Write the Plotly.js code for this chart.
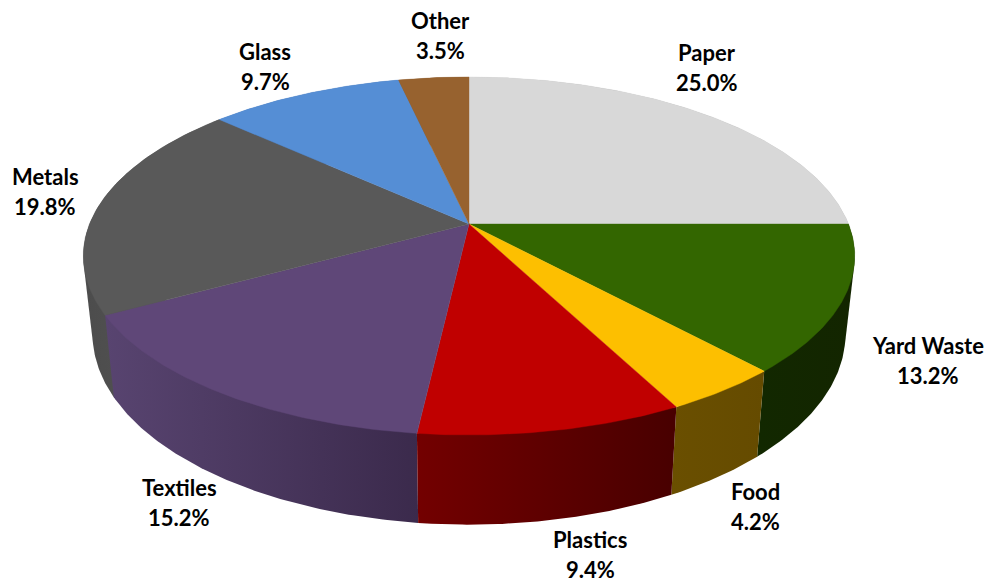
<!DOCTYPE html>
<html>
<head>
<meta charset="utf-8">
<script src="https://cdn.plot.ly/plotly-3.0.1.min.js"></script>
<style>html,body{margin:0;padding:0;background:#fff}#chart{width:992px;height:582px}</style>
</head>
<body>
<div id="chart"></div>
<script>
// Data
const categories = ["Paper", "Yard Waste", "Food", "Plastics", "Textiles", "Metals", "Glass", "Other"];
const shares = [25.0, 13.2, 4.2, 9.4, 15.2, 19.8, 9.7, 3.5];

// Styles
const topColors = ["#d8d8d8", "#336600", "#fdbf00", "#c00000", "#5f4778", "#595959", "#558ed5", "#97622f"];
const wallLeft  = ["#b0b0b0", "#122800", "#6a4f00", "#730000", "#584470", "#4c4c4c", "#456fa6", "#7a4f26"];
const wallRight = ["#b0b0b0", "#132500", "#654b00", "#480000", "#3b2a4c", "#5a5a5a", "#456fa6", "#7a4f26"];
const labelCenterX = [707, 928, 755, 590, 179, 45, 265, 440];
const labelTopY    = [52, 345, 491, 539, 487, 176, 51, 20];

// Projection of the pie disc to the page
const cx = 469, cy = 224, rx = 379.5, ry = 173.3, persp = 0.1787;
const baseCy = 300, baseRy = 184.5, baseRx = 370.4;
function projTop(a) {
  const u = Math.sin(a), v = Math.cos(a), w = 1 + persp * v;
  return [cx + rx * u / w, cy - ry * v / w];
}
function projBase(a) {
  const u = Math.sin(a), v = Math.cos(a), w = 1 + persp * v;
  return [cx + baseRx * u / w, baseCy - baseRy * v / w];
}
function arc(proj, a0, a1) {
  const n = Math.max(2, Math.ceil(Math.abs(a1 - a0) / 0.01));
  const out = [];
  for (let i = 0; i <= n; i++) out.push(proj(a0 + (a1 - a0) * i / n));
  return out;
}
function hull(points) {
  const p = points.slice().sort((a, b) => a[0] - b[0] || a[1] - b[1]);
  const cross = (o, a, b) => (a[0] - o[0]) * (b[1] - o[1]) - (a[1] - o[1]) * (b[0] - o[0]);
  const lo = [], up = [];
  for (const q of p) {
    while (lo.length > 1 && cross(lo[lo.length - 2], lo[lo.length - 1], q) <= 0) lo.pop();
    lo.push(q);
  }
  for (const q of p.slice().reverse()) {
    while (up.length > 1 && cross(up[up.length - 2], up[up.length - 1], q) <= 0) up.pop();
    up.push(q);
  }
  return lo.slice(0, -1).concat(up);
}

const total = shares.reduce((s, x) => s + x, 0);
let acc = 0;
const slices = shares.map(s => {
  const a0 = acc / total * 2 * Math.PI;
  acc += s;
  return [a0, acc / total * 2 * Math.PI];
});

function poly(points, extra) {
  return Object.assign({
    type: "scatter", mode: "lines", x: points.map(p => p[0]), y: points.map(p => p[1]),
    fill: "toself", line: {width: 0}, hoverinfo: "skip", showlegend: false
  }, extra);
}

const traces = [];
// Side walls first, far ones before near ones; the top face is painted over them
const wallOrder = slices.map((s, i) => i)
  .sort((p, q) => Math.cos((slices[q][0] + slices[q][1]) / 2) - Math.cos((slices[p][0] + slices[p][1]) / 2));
wallOrder.forEach(i => {
  const [a0, a1] = slices[i];
  const pts = hull(arc(projTop, a0, a1).concat(arc(projBase, a1, a0)));
  const xs = pts.map(p => p[0]);
  traces.push(poly(pts, {
    fillcolor: wallLeft[i],
    fillgradient: {
      type: "horizontal", start: Math.min(...xs), stop: Math.max(...xs),
      colorscale: [[0, wallLeft[i]], [1, wallRight[i]]]
    }
  }));
});
// Top face
slices.forEach(([a0, a1], i) => {
  const pts = [[cx, cy]].concat(arc(projTop, a0, a1));
  pts.push([cx, cy]);
  traces.push(poly(pts, {fillcolor: topColors[i], line: {width: 0.4, color: topColors[i]}}));
});

const labelFont = {family: "Lato, 'Open Sans', sans-serif", size: 22, color: "#000000", weight: 700};
const annotations = [];
categories.forEach((c, i) => {
  const base = {xref: "x", yref: "y", x: labelCenterX[i], showarrow: false, xanchor: "center", yanchor: "middle", font: labelFont};
  annotations.push(Object.assign({}, base, {y: labelTopY[i], text: "<b>" + c + "</b>"}));
  annotations.push(Object.assign({}, base, {y: labelTopY[i] + 30, text: "<b>" + shares[i].toFixed(1) + "%</b>"}));
});

Plotly.newPlot("chart", traces, {
  width: 992, height: 582,
  margin: {l: 0, r: 0, t: 0, b: 0},
  paper_bgcolor: "#ffffff", plot_bgcolor: "#ffffff",
  showlegend: false,
  xaxis: {range: [0, 992], visible: false, fixedrange: true},
  yaxis: {range: [582, 0], visible: false, fixedrange: true},
  annotations: annotations
}, {displayModeBar: false, staticPlot: true});
</script>
</body>
</html>
